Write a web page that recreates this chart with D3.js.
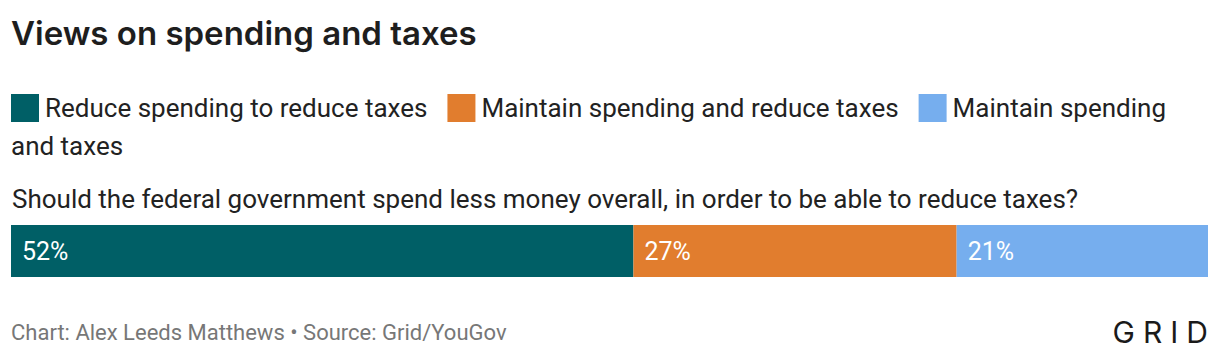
<!DOCTYPE html>
<html>
<head>
<meta charset="utf-8">
<script src="https://cdn.jsdelivr.net/npm/d3@7"></script>
<style>
  body { margin: 0; background: #fff; }
</style>
</head>
<body>
<div id="chart"></div>
<script>
var categories = ["Reduce spending to reduce taxes", "Maintain spending and reduce taxes", "Maintain spending and taxes"];
var values = [52, 27, 21];
var colors = ["#005f66", "#e17d2e", "#76aeee"];
var title = "Views on spending and taxes";
var question = "Should the federal government spend less money overall, in order to be able to reduce taxes?";
var source = "Chart: Alex Leeds Matthews \u2022 Source: Grid/YouGov";

var margin = {left: 11, right: 12, top: 225, barHeight: 52};
var width = 1220, height = 364;

var svg = d3.select("#chart").append("svg")
    .attr("width", width)
    .attr("height", height)
    .style("font-family", "Roboto, sans-serif");

// title
svg.append("text")
    .attr("x", 11)
    .attr("y", 45)
    .attr("font-family", "Inter, sans-serif")
    .attr("font-weight", 600)
    .attr("font-size", 33)
    .attr("fill", "#1e1e1e")
    .text(title);

// legend, wraps word by word like the original
var legendFont = 26, lineGap = 38, maxX = 1200;
var lx = margin.left, ly = 117;
var legend = svg.append("g").attr("class", "legend");

function measure(str) {
    var t = legend.append("text").attr("font-size", legendFont).text(str);
    var w = t.node().getComputedTextLength();
    t.remove();
    return w;
}

var spaceW = measure("a b") - measure("ab");

categories.forEach(function(c, i) {
    legend.append("rect")
        .attr("x", lx)
        .attr("y", ly - 23)
        .attr("width", 28)
        .attr("height", 28)
        .attr("fill", colors[i]);
    lx += 34;
    var words = c.split(" ");
    var line = [];
    words.forEach(function(w) {
        var candidate = line.concat([w]).join(" ");
        if (lx + measure(candidate) > maxX && line.length) {
            legend.append("text")
                .attr("x", lx).attr("y", ly)
                .attr("font-size", legendFont).attr("fill", "#222")
                .text(line.join(" "));
            lx = margin.left;
            ly += lineGap;
            line = [w];
        } else {
            line.push(w);
        }
    });
    var str = line.join(" ");
    legend.append("text")
        .attr("x", lx).attr("y", ly)
        .attr("font-size", legendFont).attr("fill", "#222")
        .text(str);
    lx += measure(str) + 20;
});

// question
svg.append("text")
    .attr("x", 12)
    .attr("y", 208)
    .attr("font-size", 26)
    .attr("fill", "#222")
    .text(question);

var x = d3.scaleLinear()
    .domain([0, d3.sum(values)])
    .range([margin.left, width - margin.right]);

var stacked = [];
var acc = 0;
values.forEach(function(v, i) {
    stacked.push({cat: categories[i], v0: acc, v1: acc + v, value: v, color: colors[i]});
    acc += v;
});

svg.selectAll(".bar")
    .data(stacked)
    .enter().append("rect")
    .attr("class", "bar")
    .attr("x", function(d) { return x(d.v0); })
    .attr("width", function(d) { return x(d.v1) - x(d.v0); })
    .attr("y", margin.top)
    .attr("height", margin.barHeight)
    .attr("fill", function(d) { return d.color; });

svg.selectAll(".lbl")
    .data(stacked)
    .enter().append("text")
    .attr("class", "lbl")
    .attr("x", function(d) { return x(d.v0) + 11; })
    .attr("y", margin.top + margin.barHeight / 2 + 9)
    .attr("fill", "#fff")
    .attr("font-size", 25)
    .text(function(d) { return d.value + "%"; });

// footer
svg.append("text")
    .attr("x", 11)
    .attr("y", 340)
    .attr("font-size", 22)
    .attr("fill", "#777")
    .text(source);

// logo
svg.append("text")
    .attr("x", width - 4)
    .attr("y", 343)
    .attr("text-anchor", "end")
    .attr("font-family", "Inter, sans-serif")
    .attr("font-weight", 400)
    .attr("font-size", 30)
    .attr("letter-spacing", 8)
    .attr("fill", "#1a1a1a")
    .text("GRID");
</script>
</body>
</html>
